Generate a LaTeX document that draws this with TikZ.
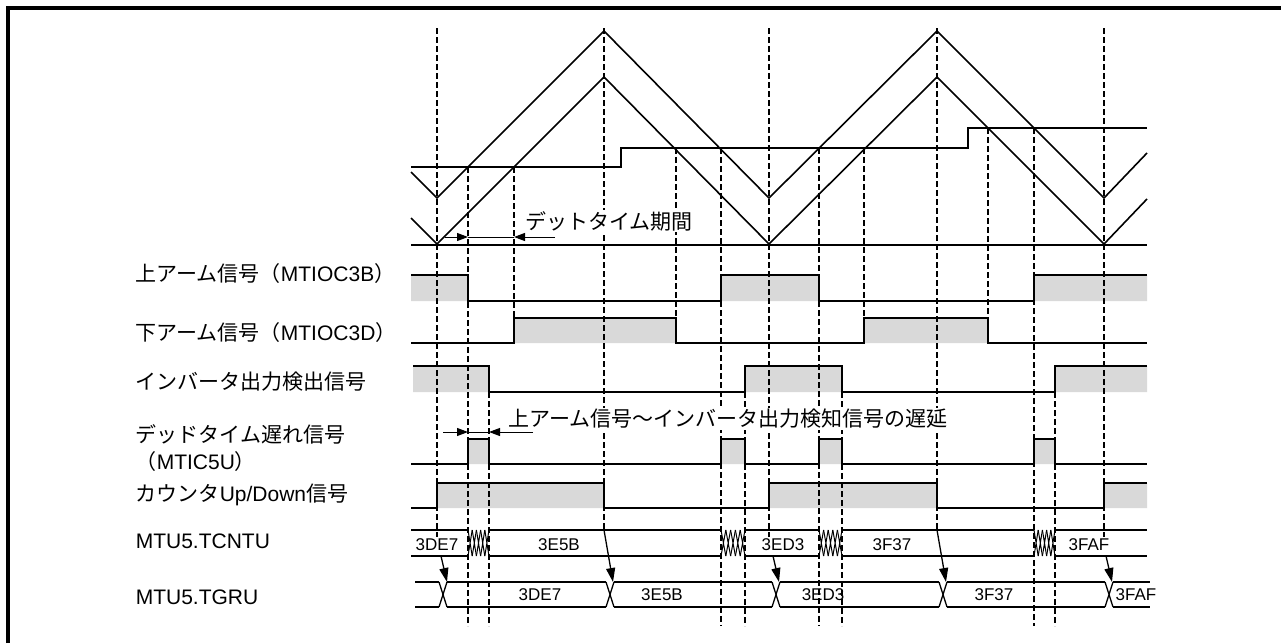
\documentclass[tikz,border=0pt]{standalone}
\usepackage{fontspec}
\setmainfont{Liberation Sans}
\newfontfamily\jp{Noto Sans CJK JP}
\usetikzlibrary{arrows.meta}
\definecolor{hiband}{HTML}{D9D9D9}

\begin{document}
\begin{tikzpicture}[x=1pt,y=-1pt,line width=1.6pt,
  lbl/.style={anchor=west,inner sep=0pt,align=left,font=\fontsize{21}{27}\selectfont},
  val/.style={inner sep=0pt,font=\fontsize{17}{20}\selectfont},
  note/.style={fill=white,inner sep=1pt,font=\jp\fontsize{21}{24}\selectfont},
  vline/.style={line width=1.2pt,dash pattern=on 6pt off 3pt},
  dim/.style={-{Triangle[length=11pt,width=8pt]},line width=1pt},
  sig/.style={line width=2pt},
  bus/.style={line width=1.3pt}]
\useasboundingbox (0,0) rectangle (1281,643);
\draw[line width=3.3pt] (8,643) -- (8,8) -- (1281,8);
\fill[hiband] (411,275) rectangle (468,301) (721,275) rectangle (819,301) (1034,275) rectangle (1147,301);
\fill[hiband] (514,318) rectangle (676,343) (864,318) rectangle (988,343);
\fill[hiband] (413,366) rectangle (489,392) (745,366) rectangle (842,392) (1055,366) rectangle (1147,392);
\fill[hiband] (468,439) rectangle (489,464) (721,439) rectangle (745,464) (819,439) rectangle (842,464) (1034,439) rectangle (1055,464);
\fill[hiband] (437,483) rectangle (604,508) (769,483) rectangle (937,508) (1104,483) rectangle (1147,508);
\foreach \x/\ya/\yb in {437/28/537,604/28/530,769/28/537,937/28/530,1104/28/537,
  468/167/626,721/148/626,819/148/626,1034/128/626,
  514/167/343,676/148/343,864/148/343,988/128/343,
  489/392/626,745/392/626,842/392/626,1055/392/626}
  \draw[vline] (\x,\ya) -- (\x,\yb);
\node[note] (dtime) at (609,221) {デットタイム期間};
\node[note] (delay) at (728,419) {上アーム信号～インバータ出力検知信号の遅延};
\coordinate (dtL) at (445,237); \coordinate (dt1) at (468,237);
\coordinate (dt2) at (514,237); \coordinate (dtR) at (555,237);
\draw[dim] (dtL) -- (dt1); \draw[dim] (dtR) -- (dt2); \draw[line width=.7pt] (dt1) -- (dt2);
\coordinate (dlL) at (443,432); \coordinate (dl1) at (468,432);
\coordinate (dl2) at (489,432); \coordinate (dlR) at (533,432);
\draw[dim] (dlL) -- (dl1); \draw[dim] (dlR) -- (dl2); \draw[line width=.7pt] (dl1) -- (dl2);
\draw (411,172) -- (437,198) -- (604,31) -- (769,198) -- (937,31) -- (1104,198) -- (1147,153);
\draw (411,218) -- (437,244) -- (604,77) -- (769,244) -- (937,77) -- (1104,244) -- (1147,199);
\draw (411,167) -| (621,148) -| (968,128) -- (1147,128);
\draw (411,245) -- (1147,245);
\draw[sig] (411,275) -| (468,301) -| (721,275) -| (819,301) -| (1034,275) -- (1147,275);
\draw[sig] (411,343) -| (514,318) -| (676,343) -| (864,318) -| (988,343) -- (1147,343);
\draw[sig] (413,366) -| (489,392) -| (745,366) -| (842,392) -| (1055,366) -- (1147,366);
\draw[sig] (411,464) -| (468,439) -| (489,464) -| (721,439) -| (745,464) -| (819,439) -| (842,464) -| (1034,439) -| (1055,464) -- (1147,464);
\draw[sig] (411,508) -| (437,483) -| (604,508) -| (769,483) -| (937,508) -| (1104,483) -- (1147,483);
\foreach \a/\b in {411/468,489/721,745/819,842/1034,1055/1147}
  \draw[bus] (\a,530) -- (\b,530) (\a,556) -- (\b,556);
\foreach \a/\b in {468/489,721/745,819/842,1034/1055}
  \foreach \i in {0,...,4}
    \draw[line width=1pt] ({\a+\i*(\b-\a)/5},530) -- ({\a+(\i+1)*(\b-\a)/5},556)
      ({\a+\i*(\b-\a)/5},556) -- ({\a+(\i+1)*(\b-\a)/5},530);
\foreach \a/\b in {415/439,447/606,614/772,780/939,947/1105,1113/1150}
  \draw[bus] (\a,582) -- (\b,582) (\a,607) -- (\b,607);
\foreach \c in {443,610,776,943,1109}
  \draw[bus] (\c-4,582) -- (\c+4,607) (\c-4,607) -- (\c+4,582);
\foreach \x/\t [count=\i] in {437/3DE7,559/3E5B,783/3ED3,892/3F37,1089/3FAF}
  \node[val] (cnt\i) at (\x,545) {\t};
\foreach \x/\t [count=\i] in {540/3DE7,662/3E5B,823/3ED3,994/3F37,1136/3FAF}
  \node[val] (gru\i) at (\x,595) {\t};
\foreach \xa/\ya/\xb [count=\i] in {441/556/447,604/530/613,773/556/779,937/530/946,1106/556/1112}{
  \coordinate (from\i) at (\xa,\ya); \coordinate (to\i) at (\xb,582);
  \draw[bus,-{Triangle[length=14pt,width=9pt]}] (from\i) -- (to\i);}
\node[lbl] (uarm) at (135,274) {{\jp 上アーム信号（}MTIOC3B{\jp ）}};
\node[lbl] (larm) at (135,333) {{\jp 下アーム信号（}MTIOC3D{\jp ）}};
\node[lbl] (inv) at (135,382) {\jp インバータ出力検出信号};
\node[lbl] (dtdly) at (135,448) {{\jp デッドタイム遅れ信号}\\{\jp （}MTIC5U{\jp ）}};
\node[lbl] (updn) at (135,495) {{\jp カウンタ}Up/Down{\jp 信号}};
\node[lbl] (tcnt) at (135,541) {MTU5.TCNTU};
\node[lbl] (tgr) at (135,597) {MTU5.TGRU};
\end{tikzpicture}
\end{document}
